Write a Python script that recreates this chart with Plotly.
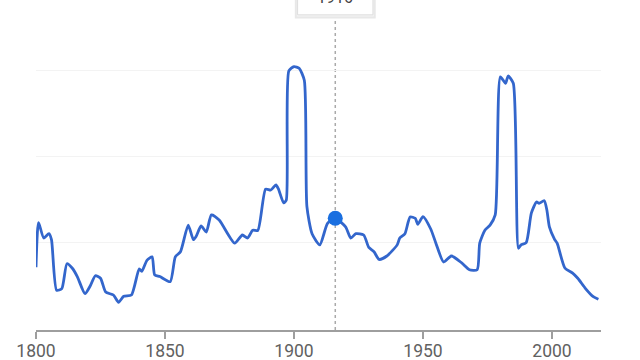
import plotly.graph_objects as go

years = [1800, 1801, 1803, 1805, 1806, 1808, 1810, 1812, 1814, 1816, 1819, 1821, 1823, 1825,
         1827, 1830, 1832, 1834, 1837, 1840, 1841, 1843, 1845, 1846, 1848, 1852, 1854, 1856,
         1859, 1861, 1862, 1864, 1866, 1868, 1871, 1877, 1880, 1882, 1884, 1886, 1889, 1891,
         1893, 1894, 1896, 1897, 1898, 1900, 1902, 1904, 1905, 1907, 1910, 1913, 1916, 1920,
         1922, 1924, 1927, 1929, 1931, 1933, 1936, 1940, 1941, 1943, 1945, 1947, 1948, 1950,
         1953, 1955, 1958, 1961, 1965, 1968, 1971, 1972, 1974, 1976, 1978, 1980, 1982, 1983,
         1985, 1987, 1988, 1990, 1992, 1994, 1995, 1997, 1998, 1999, 2001, 2002, 2005, 2008,
         2010, 2013, 2016, 2018]
values = [0.71, 1.23, 1.05, 1.10, 1.03, 0.44, 0.46, 0.75, 0.70, 0.60, 0.40, 0.49, 0.61, 0.58,
          0.42, 0.385, 0.30, 0.37, 0.385, 0.69, 0.66, 0.79, 0.83, 0.62, 0.60, 0.54, 0.83, 0.89,
          1.20, 1.03, 1.065, 1.19, 1.12, 1.32, 1.26, 0.99, 1.085, 1.05, 1.14, 1.14, 1.62, 1.61,
          1.67, 1.62, 1.46, 1.49, 3.00, 3.05, 3.03, 2.89, 1.42, 1.10, 0.97, 1.22, 1.28, 1.18,
          1.05, 1.10, 1.085, 0.94, 0.89, 0.80, 0.84, 0.97, 1.05, 1.10, 1.295, 1.28, 1.21, 1.30,
          1.155, 0.99, 0.77, 0.84, 0.76, 0.68, 0.68, 0.99, 1.14, 1.20, 1.32, 2.93, 2.855, 2.94,
          2.855, 0.93, 0.97, 0.995, 1.34, 1.47, 1.455, 1.485, 1.38, 1.18, 1.035, 0.99, 0.70, 0.64,
          0.58, 0.46, 0.365, 0.335]

hover_year = 1916
hover_value = 1.28
tick_years = [1800, 1850, 1900, 1950, 2000]
tick_labels = ["1800", "1850", "1900", "1950", "2000"]

fig = go.Figure()
fig.add_trace(go.Scatter(
    x=years, y=values, mode="lines",
    line=dict(color="#3366cc", width=2.8, shape="spline", smoothing=0.6),
    hoverinfo="skip", showlegend=False,
))
fig.add_trace(go.Scatter(
    x=[hover_year], y=[hover_value], mode="markers",
    marker=dict(color="#1a6fe0", size=15),
    hoverinfo="skip", showlegend=False,
))

# dotted hover guide line
fig.add_shape(type="line", xref="x", yref="paper", x0=hover_year, x1=hover_year,
              y0=0, y1=0.95, line=dict(color="#aaaaaa", width=1.5, dash="dot"), layer="below")
# tooltip box (shadow + box)
fig.add_shape(type="rect", xref="x", yref="paper", x0=hover_year - 15.3, x1=hover_year + 15.3,
              y0=0.947, y1=1.1, line=dict(color="#e8e8e8", width=2), fillcolor="#f4f4f4")
fig.add_shape(type="rect", xref="x", yref="paper", x0=hover_year - 14.6, x1=hover_year + 14.6,
              y0=0.955, y1=1.1, line=dict(color="#dddddd", width=1), fillcolor="white")
fig.add_annotation(x=hover_year, xref="x", y=1.008, yref="paper", text=str(hover_year),
                   showarrow=False, yanchor="middle",
                   font=dict(family="Roboto", size=16, color="#444444"))

fig.update_layout(
    width=640, height=360,
    margin=dict(l=36, r=39, t=0, b=30, autoexpand=False),
    paper_bgcolor="white", plot_bgcolor="white",
    xaxis=dict(range=[1800, 2019], tickvals=tick_years, ticktext=tick_labels,
               showgrid=False, zeroline=False, showline=True, linecolor="#9e9e9e", linewidth=2,
               ticks="outside", ticklen=7, tickwidth=2, tickcolor="#9e9e9e",
               ticklabelstandoff=-3, automargin=False,
               tickfont=dict(family="Roboto", size=17.5, color="#616161"), fixedrange=True),
    yaxis=dict(range=[-0.0233, 3.827], tickvals=[1, 2, 3], showticklabels=False,
               showgrid=True, gridcolor="#f3f3f3", gridwidth=1, zeroline=False,
               showline=False, fixedrange=True, automargin=False),
)

fig.write_html("out.html")
